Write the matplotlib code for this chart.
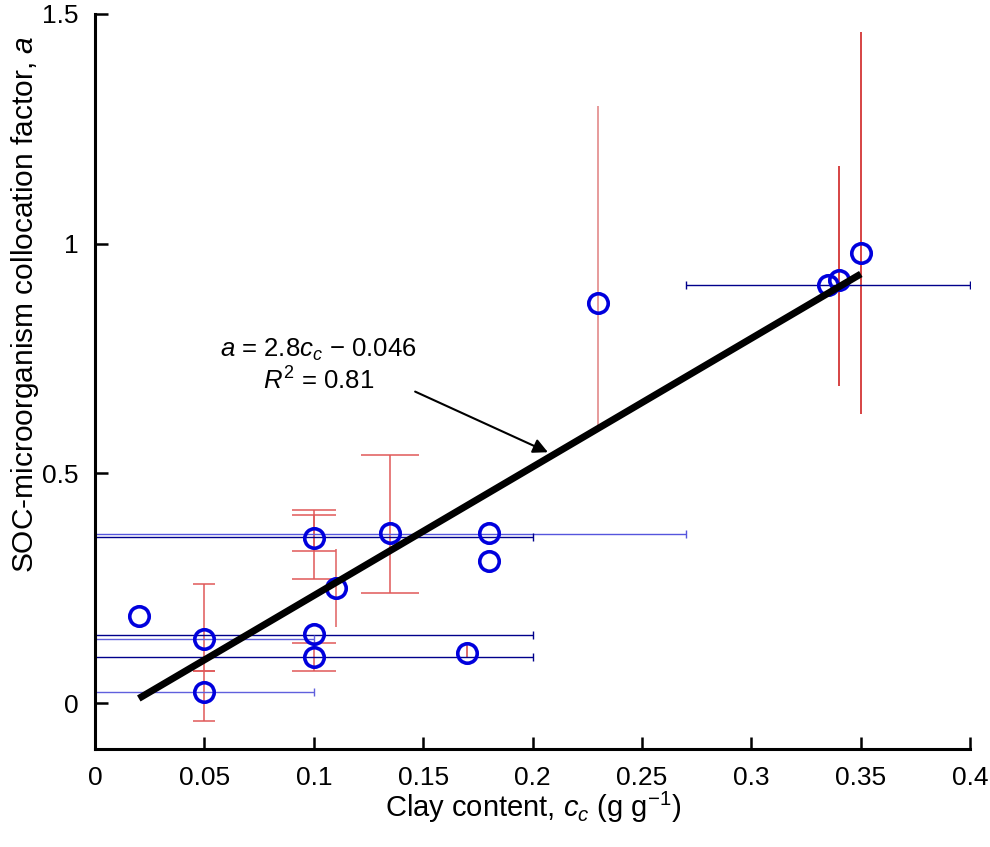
import numpy as np
import matplotlib
matplotlib.use("Agg")
import matplotlib.pyplot as plt

plt.rcParams['font.family'] = ['Liberation Sans', 'DejaVu Sans']
plt.rcParams['mathtext.fontset'] = 'custom'
plt.rcParams['mathtext.rm'] = 'Liberation Sans'
plt.rcParams['mathtext.it'] = 'Liberation Sans:italic'

# measured points
pt_x = [0.02, 0.05, 0.05, 0.10, 0.10, 0.10, 0.11, 0.135, 0.17, 0.18, 0.18, 0.23, 0.335, 0.34, 0.35]
pt_y = [0.19, 0.14, 0.025, 0.36, 0.15, 0.10, 0.25, 0.37, 0.108, 0.37, 0.31, 0.87, 0.91, 0.92, 0.98]

# vertical (red) error bars with caps: x, low, high, cap size
cap_x = [0.05, 0.05, 0.10, 0.10, 0.10, 0.135]
cap_lo = [0.07, -0.04, 0.27, 0.33, 0.07, 0.24]
cap_hi = [0.26, 0.07, 0.42, 0.41, 0.13, 0.54]
cap_size = [8, 8, 15.5, 15.5, 15.5, 21]

# vertical (red) error bars without caps
bar_x = [0.11, 0.17, 0.23, 0.34, 0.35]
bar_lo = [0.165, 0.10, 0.60, 0.69, 0.63]
bar_hi = [0.335, 0.126, 1.30, 1.17, 1.46]
bar_col = ['#e06060', '#d04040', '#e08080', '#cc1111', '#cc1111']

# horizontal (blue) error bars: y, low, high
hb_y = [0.369, 0.362, 0.148, 0.139, 0.100, 0.025, 0.911]
hb_lo = [0.0, 0.0, 0.0, 0.0, 0.0, 0.0, 0.27]
hb_hi = [0.27, 0.20, 0.20, 0.10, 0.20, 0.10, 0.40]
hb_col = ['#5555dd', '#00008b', '#00008b', '#6060dd', '#00008b', '#6060dd', '#00008b']

# linear fit a = 2.8 c_c - 0.046
fit_slope = 2.8
fit_icpt = -0.046
fit_range = [0.02, 0.35]

xticks = [0, 0.05, 0.1, 0.15, 0.2, 0.25, 0.3, 0.35, 0.4]
xlabels = ['0', '0.05', '0.1', '0.15', '0.2', '0.25', '0.3', '0.35', '0.4']
yticks = [0, 0.5, 1, 1.5]
ylabels = ['0', '0.5', '1', '1.5']

fig = plt.figure(figsize=(9.9, 8.47), dpi=100)
ax = fig.add_axes([0.096, 0.1157, 0.884, 0.8678])

for x, lo, hi, cs in zip(cap_x, cap_lo, cap_hi, cap_size):
    ax.errorbar([x], [(lo + hi) / 2], yerr=[[(hi - lo) / 2], [(hi - lo) / 2]], fmt='none',
                ecolor='#e05858', elinewidth=1.1, capsize=cs, capthick=1.1, zorder=2)

for x, lo, hi, c in zip(bar_x, bar_lo, bar_hi, bar_col):
    ax.errorbar([x], [(lo + hi) / 2], yerr=[[(hi - lo) / 2], [(hi - lo) / 2]], fmt='none',
                ecolor=c, elinewidth=1.1, capsize=0, zorder=2)

for y, lo, hi, c in zip(hb_y, hb_lo, hb_hi, hb_col):
    ax.errorbar([(lo + hi) / 2], [y], xerr=[[(hi - lo) / 2], [(hi - lo) / 2]], fmt='none',
                ecolor=c, elinewidth=1.0, capsize=3, capthick=1.0, zorder=2)

ax.plot(pt_x, pt_y, 'o', ms=14, mfc='none', mec='#0000dd', mew=2.6, zorder=3, clip_on=False)

fx = np.array(fit_range)
ax.plot(fx, fit_slope * fx + fit_icpt, color='black', lw=5, solid_capstyle='butt', zorder=4)

ax.text(0.102, 0.735, '$a$ = 2.8$c_c$ \u2212 0.046\n$R^2$ = 0.81', ha='center', va='center',
        multialignment='center', fontsize=18.5)
ax.annotate('', xy=(0.207, 0.546), xytext=(0.1463, 0.678),
            arrowprops=dict(arrowstyle='-|>', color='black', lw=1.5, mutation_scale=22,
                            shrinkA=0, shrinkB=0))

ax.set_xlim(0, 0.4)
ax.set_ylim(-0.1, 1.5)
ax.set_xticks(xticks)
ax.set_xticklabels(xlabels)
ax.set_yticks(yticks)
ax.set_yticklabels(ylabels)
ax.tick_params(direction='in', length=9, width=1.8, labelsize=19, pad=12)
for s in ['top', 'right']:
    ax.spines[s].set_visible(False)
for s in ['left', 'bottom']:
    ax.spines[s].set_linewidth(2.2)

ax.set_xlabel('Clay content, $c_c$ (g g$^{-1}$)', fontsize=21, labelpad=0)
ax.set_ylabel('SOC-microorganism collocation factor, $a$', fontsize=21.5)
ax.yaxis.set_label_coords(-0.062, 0.605)

fig.savefig('out.png', dpi=100)
